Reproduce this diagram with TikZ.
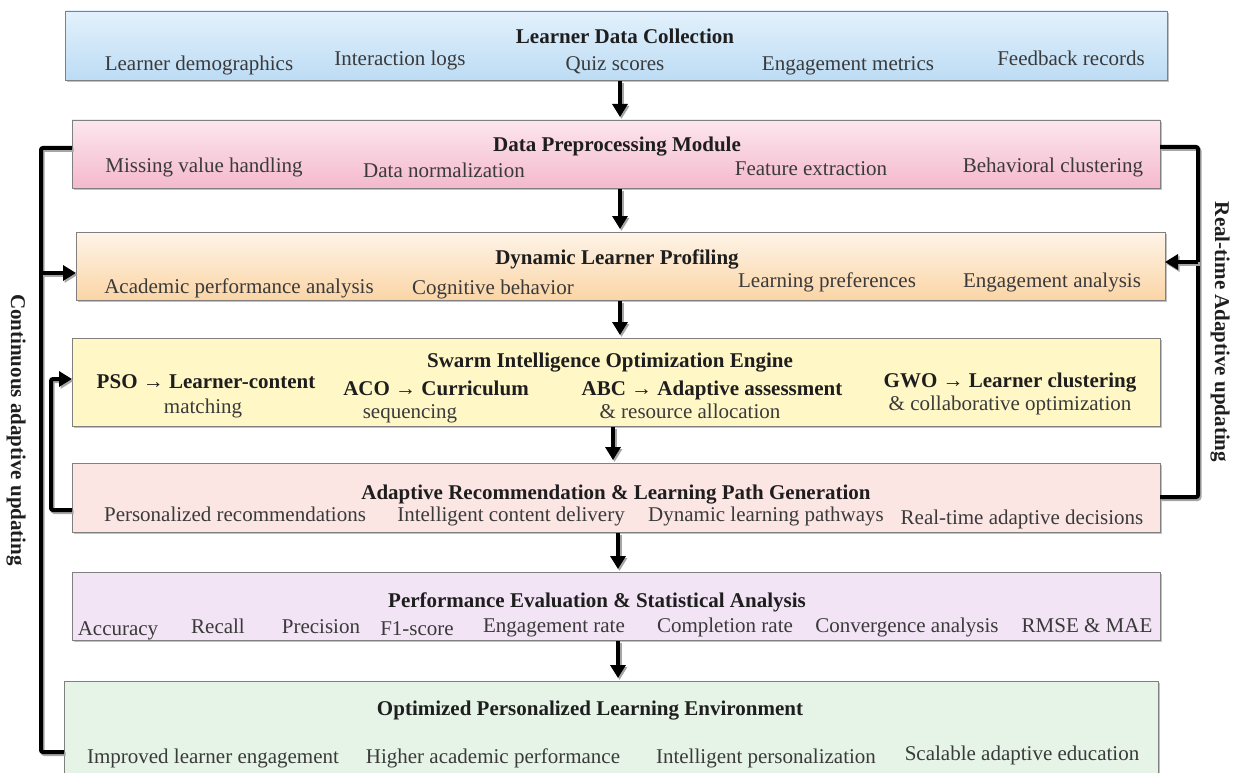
\documentclass[tikz,border=0pt]{standalone}
\usepackage{fontspec}
\setmainfont{Liberation Serif}
\usetikzlibrary{arrows.meta,shadows}
\definecolor{txt}{HTML}{3A3A3A}
\definecolor{ttl}{HTML}{1E1E1E}
\definecolor{bord}{HTML}{808080}
\definecolor{c1t}{HTML}{E3F1FC}
\definecolor{c1b}{HTML}{BCDCF4}
\definecolor{c2t}{HTML}{FCE6EE}
\definecolor{c2b}{HTML}{F4B9CD}
\definecolor{c3t}{HTML}{FEF4E8}
\definecolor{c3b}{HTML}{FBD5A6}
\definecolor{c4}{HTML}{FFF7C6}
\definecolor{c5}{HTML}{FBE6E4}
\definecolor{c6}{HTML}{F2E3F5}
\definecolor{c7}{HTML}{E6F4E7}
\begin{document}
\begin{tikzpicture}[x=1pt,y=-1pt,
  box/.style={draw=bord, line width=0.9pt, rectangle, inner sep=0pt, outer sep=0pt,
    drop shadow={shadow xshift=2pt, shadow yshift=-2pt, fill=black!35, opacity=0.7}},
  item/.style={anchor=base, inner sep=0pt, font=\fontsize{21}{25}\selectfont, text=txt},
  ttlnode/.style={anchor=base, inner sep=0pt, font=\fontsize{21}{25}\selectfont\bfseries, text=ttl},
  conn/.style={line width=4pt, black, rounded corners=2pt},
  arr/.style={line width=4pt, black, -{Triangle[length=13pt,width=15pt]}},
  shd/.style={gray!70, transform canvas={xshift=1.5pt,yshift=-2pt}},
  side/.style={inner sep=0pt, font=\fontsize{21}{25}\selectfont\bfseries, text=ttl, rotate=-90}
]
\useasboundingbox (0,0) rectangle (1235,773);

% boxes
\node[box, top color=c1t, bottom color=c1b, minimum width=1102pt, minimum height=69pt] (b1) at (616,45.5) {};
\node[box, top color=c2t, bottom color=c2b, minimum width=1088pt, minimum height=68pt] (b2) at (616,154) {};
\node[box, top color=c3t, bottom color=c3b, minimum width=1089pt, minimum height=68pt] (b3) at (620.5,266) {};
\node[box, fill=c4, minimum width=1088pt, minimum height=88pt] (b4) at (616,382) {};
\node[box, fill=c5, minimum width=1088pt, minimum height=69pt] (b5) at (616,497.5) {};
\node[box, fill=c6, minimum width=1088pt, minimum height=68pt] (b6) at (616,606) {};
\node[box, fill=c7, minimum width=1094pt, minimum height=110pt] (b7) at (611,736) {};

% box 1 texts
\node[ttlnode] (t1) at (625,44) {Learner Data Collection};
\node[item] (i11) at (199,71) {Learner demographics};
\node[item] (i12) at (400,66) {Interaction logs};
\node[item] (i13) at (615,71) {Quiz scores};
\node[item] (i14) at (848,71) {Engagement metrics};
\node[item] (i15) at (1071,66) {Feedback records};

% box 2
\node[ttlnode] (t2) at (617,152) {Data Preprocessing Module};
\node[item] (i21) at (204,173) {Missing value handling};
\node[item] (i22) at (444,178) {Data normalization};
\node[item] (i23) at (811,176) {Feature extraction};
\node[item] (i24) at (1053,173) {Behavioral clustering};

% box 3
\node[ttlnode] (t3) at (617,264) {Dynamic Learner Profiling};
\node[item] (i31) at (239,293) {Academic performance analysis};
\node[item] (i32) at (493,294) {Cognitive behavior};
\node[item] (i33) at (827,287) {Learning preferences};
\node[item] (i34) at (1052,287) {Engagement analysis};

% box 4
\node[ttlnode] (t4) at (610,367) {Swarm Intelligence Optimization Engine};
\node[ttlnode] (i41) at (206,388) {PSO \textrightarrow\ Learner-content};
\node[item] (i41b) at (203,413) {matching};
\node[ttlnode] (i42) at (436,395) {ACO \textrightarrow\ Curriculum};
\node[item] (i42b) at (410,418) {sequencing};
\node[ttlnode] (i43) at (712,395) {ABC \textrightarrow\ Adaptive assessment};
\node[item] (i43b) at (690,418) {\& resource allocation};
\node[ttlnode] (i44) at (1010,387) {GWO \textrightarrow\ Learner clustering};
\node[item] (i44b) at (1010,410) {\& collaborative optimization};

% box 5
\node[ttlnode] (t5) at (616,499) {Adaptive Recommendation \& Learning Path Generation};
\node[item] (i51) at (235,521) {Personalized recommendations};
\node[item] (i52) at (511,521) {Intelligent content delivery};
\node[item] (i53) at (766,521) {Dynamic learning pathways};
\node[item] (i54) at (1022,524) {Real-time adaptive decisions};

% box 6
\node[ttlnode] (t6) at (597,607) {Performance Evaluation \& Statistical Analysis};
\node[item] (i61) at (118,635) {Accuracy};
\node[item] (i62) at (218,633) {Recall};
\node[item] (i63) at (321,633) {Precision};
\node[item] (i64) at (417,635) {F1-score};
\node[item] (i65) at (554,632) {Engagement rate};
\node[item] (i66) at (725,632) {Completion rate};
\node[item] (i67) at (907,632) {Convergence analysis};
\node[item] (i68) at (1087,632) {RMSE \& MAE};

% box 7
\node[ttlnode] (t7) at (590,715) {Optimized Personalized Learning Environment};
\node[item] (i71) at (213,763) {Improved learner engagement};
\node[item] (i72) at (493,763) {Higher academic performance};
\node[item] (i73) at (766,763) {Intelligent personalization};
\node[item] (i74) at (1022,760) {Scalable adaptive education};

% side labels
\node[side] (lL) at (16,430) {Continuous adaptive updating};
\node[side] (lR) at (1220,332) {Real-time Adaptive updating};

% vertical flow arrows
\foreach \a/\b/\x in {b1/b2/620, b2/b3/620, b3/b4/620, b4/b5/613, b5/b6/618, b6/b7/618}{
  \draw[arr,shd,shorten <=1pt,shorten >=3pt] (\a.south -| \x,0) -- (\b.north -| \x,0);
  \draw[arr,shorten <=1pt,shorten >=3pt] (\a.south -| \x,0) -- (\b.north -| \x,0);
}

% left loop
\draw[conn,shd] (b2.west |- 0,148) -- (41,148) -- (41,752) -- (b7.west |- 0,752);
\draw[conn] (b2.west |- 0,148) -- (41,148) -- (41,752) -- (b7.west |- 0,752);
\draw[arr,shd] (41,273) -- (b3.west |- 0,273);
\draw[arr] (41,273) -- (b3.west |- 0,273);
\draw[arr,shd,rounded corners=2pt] (b5.west |- 0,510) -- (51,510) -- (51,379) -- (b4.west |- 0,379);
\draw[arr,rounded corners=2pt] (b5.west |- 0,510) -- (51,510) -- (51,379) -- (b4.west |- 0,379);

% right loop
\draw[conn,shd] (b2.east |- 0,147) -- (1198,147) -- (1198,497) -- (b5.east |- 0,497);
\draw[conn] (b2.east |- 0,147) -- (1198,147) -- (1198,497) -- (b5.east |- 0,497);
\draw[arr,shd] (1198,262) -- (b3.east |- 0,262);
\draw[arr] (1198,262) -- (b3.east |- 0,262);
\end{tikzpicture}
\end{document}
